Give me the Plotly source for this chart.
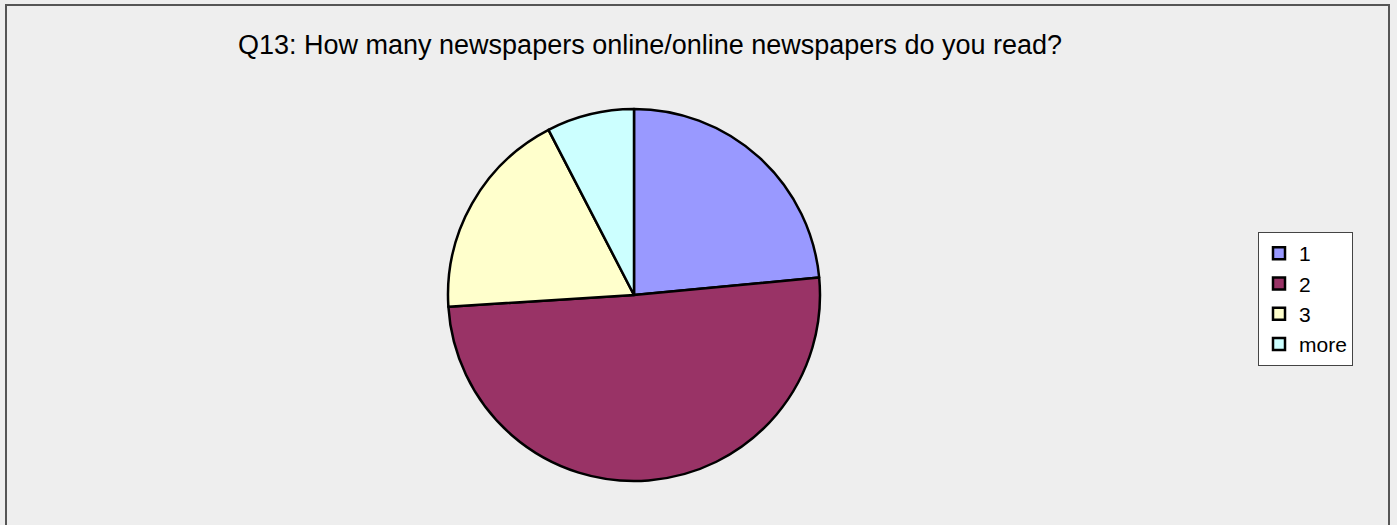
import plotly.graph_objects as go

labels = ["1", "2", "3", "more"]
values = [23.5, 50.5, 18.4, 7.6]
colors = ["#9999FF", "#993366", "#FFFFCC", "#CCFFFF"]
title = "Q13: How many newspapers online/online newspapers do you read?"

W, H = 1397, 525

fig = go.Figure(go.Pie(
    labels=labels, values=values, sort=False, direction="clockwise", rotation=0,
    marker=dict(colors=colors, line=dict(color="black", width=2.5)),
    textinfo="none", hoverinfo="label+percent",
    domain=dict(x=[448 / W, 820 / W], y=[44 / H, 416 / H]),
))

fig.update_layout(
    width=W, height=H,
    margin=dict(l=0, r=0, t=0, b=0),
    paper_bgcolor="#EEEEEE", plot_bgcolor="#EEEEEE",
    font=dict(family="Liberation Sans, Arial, sans-serif", color="black"),
    showlegend=True,
    legend=dict(x=1258 / W, y=1 - 232 / H, xanchor="left", yanchor="top",
                bgcolor="white", bordercolor="#444444", borderwidth=1,
                font=dict(size=21), tracegroupgap=0, itemwidth=30),
    annotations=[dict(text=title, x=650 / W, y=1 - 45 / H, xref="paper", yref="paper",
                      showarrow=False, font=dict(size=27), xanchor="center", yanchor="middle")],
    shapes=[dict(type="rect", xref="paper", yref="paper",
                 x0=6 / W, x1=1389 / W, y0=-0.2, y1=1 - 5 / H,
                 line=dict(color="#555555", width=2), fillcolor="rgba(0,0,0,0)", layer="below")],
)

fig.write_html("out.html")
